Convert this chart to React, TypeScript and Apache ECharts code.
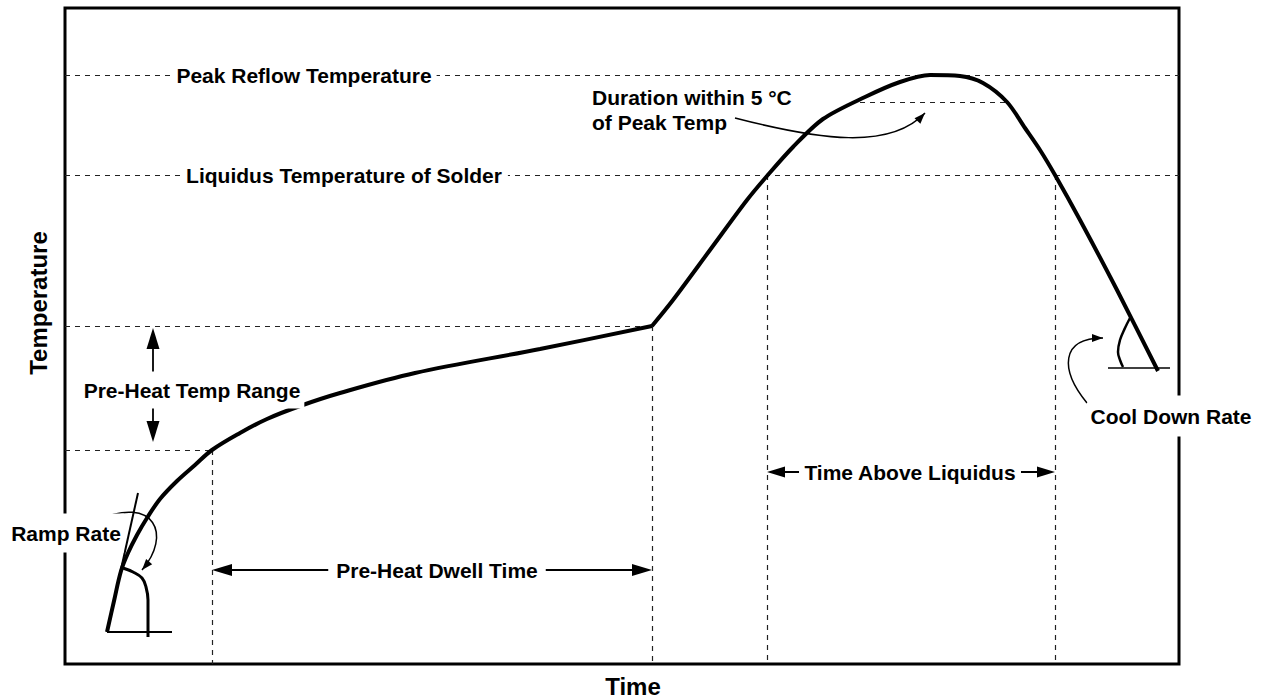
import React, { useEffect, useRef } from "react";
import * as echarts from "echarts";

// Axis extents (arbitrary time / temperature units of the schematic)
const X_MAX = 1114;
const Y_MAX = 656;

// Main reflow profile: ramp + pre-heat soak
const preheatTime = [42, 49, 56, 63, 72, 82, 95, 112, 130, 147, 175, 202, 235, 275, 350, 475, 587];
const preheatTemp = [32, 63, 93, 111, 129, 146, 165, 183, 199, 214, 231, 245, 258, 271, 291, 315, 338];

// Main reflow profile: reflow peak + cool down
const reflowTime = [587, 608, 645, 682, 702, 728, 758, 800, 835, 865, 895, 918, 942, 960, 975, 990, 1015, 1052, 1093];
const reflowTemp = [338, 364, 414, 464, 488, 517, 545, 567, 582, 589, 588, 581, 562, 536, 514, 489, 444, 374, 293];

// Key levels
const peakTemp = 589;
const peakBandTemp = 562;
const liquidusTemp = 489;
const preheatHigh = 338;
const preheatLow = 214;
const preheatStart = 147;
const preheatEnd = 587;
const liquidusStart = 702;
const liquidusEnd = 990;
const peakBandStart = 795;
const peakBandEnd = 942;

// Ramp-rate glyph
const rampArcTime = [58, 68, 77, 81, 83, 83];
const rampArcTemp = [96, 92, 86, 77, 64, 27];
const rampTangentTime = [42, 73];
const rampTangentTemp = [32, 171];
const rampBaseTime = [42, 107];
const rampBaseTemp = [32, 32];

// Cool-down glyph
const coolArcTime = [1065, 1060, 1055, 1053, 1055, 1058];
const coolArcTemp = [346, 336, 324, 312, 304, 297];
const coolBaseTime = [1043, 1105];
const coolBaseTemp = [296, 296];

// Arrow positions (time, temp)
const dwellArrowTemp = 94;
const talArrowTemp = 192;
const rangeArrowTime = 88;
const rangeArrowLow = 222;
const rangeArrowHigh = 336;

// Curved leader arrows: start, control 1, control 2, end
const rampLeader = [[32, 144], [90, 169], [107, 129], [77, 94]];
const coolLeader = [[1022, 261], [995, 294], [995, 326], [1038, 326]];
const durationLeader = [[670, 546], [755, 524], [825, 514], [860, 551]];

// Labels
const labelTexts = [
  "Peak Reflow Temperature",
  "Liquidus Temperature of Solder",
  "Pre-Heat Dwell Time",
  "Time Above Liquidus",
  "Pre-Heat Temp Range",
  "Ramp Rate",
  "Cool Down Rate",
];
const labelTime = [239, 279, 372, 845, 127, 1, 1106];
const labelTemp = [589, 489, 94, 192, 274, 131, 248];
const durationLines = ["Duration within 5 °C", "of Peak Temp"];
const durationTime = 527;
const durationTemp = [567, 542];

const FONT = '"Liberation Sans", Arial, Helvetica, sans-serif';
const zip = (a: number[], b: number[]) => a.map((v, i) => [v, b[i]]);

function head(tip: number[], from: number[], len: number, half: number) {
  const dx = tip[0] - from[0];
  const dy = tip[1] - from[1];
  const d = Math.hypot(dx, dy) || 1;
  const ux = dx / d;
  const uy = dy / d;
  const bx = tip[0] - ux * len;
  const by = tip[1] - uy * len;
  return {
    type: "polygon",
    shape: { points: [tip, [bx - uy * half, by + ux * half], [bx + uy * half, by - ux * half]] },
    style: { fill: "#000" },
  };
}

function doubleArrow(a: number[], b: number[], len: number, half: number, w: number) {
  const dx = b[0] - a[0];
  const dy = b[1] - a[1];
  const d = Math.hypot(dx, dy) || 1;
  const ux = dx / d;
  const uy = dy / d;
  return [
    {
      type: "line",
      shape: { x1: a[0] + ux * len * 0.8, y1: a[1] + uy * len * 0.8, x2: b[0] - ux * len * 0.8, y2: b[1] - uy * len * 0.8 },
      style: { stroke: "#000", lineWidth: w },
    },
    head(a, b, len, half),
    head(b, a, len, half),
  ];
}

function curvedArrow(p: number[][], w: number) {
  return [
    {
      type: "bezierCurve",
      shape: {
        x1: p[0][0], y1: p[0][1],
        cpx1: p[1][0], cpy1: p[1][1],
        cpx2: p[2][0], cpy2: p[2][1],
        x2: p[3][0], y2: p[3][1],
      },
      style: { stroke: "#000", lineWidth: w, fill: null },
    },
    head(p[3], p[2], 11, 4),
  ];
}

export default function App() {
  const ref = useRef<HTMLDivElement>(null);

  useEffect(() => {
    if (!ref.current) return;
    const chart = echarts.init(ref.current, undefined, { renderer: "svg" });

    const dashedSegments = [
      [[0, peakTemp], [X_MAX, peakTemp]],
      [[0, liquidusTemp], [X_MAX, liquidusTemp]],
      [[peakBandStart, peakBandTemp], [peakBandEnd, peakBandTemp]],
      [[0, preheatHigh], [preheatEnd, preheatHigh]],
      [[0, preheatLow], [preheatStart, preheatLow]],
      [[preheatStart, preheatLow], [preheatStart, 0]],
      [[preheatEnd, preheatHigh], [preheatEnd, 0]],
      [[liquidusStart, liquidusTemp], [liquidusStart, 0]],
      [[liquidusEnd, liquidusTemp], [liquidusEnd, 0]],
    ];

    const solidSegments = [
      { coords: zip(rampTangentTime, rampTangentTemp), lineStyle: { width: 2 } },
      { coords: zip(rampBaseTime, rampBaseTemp), lineStyle: { width: 2 } },
      { coords: zip(coolBaseTime, coolBaseTemp), lineStyle: { width: 1.5 } },
    ];

    const renderItem = (_params: any, api: any) => {
      const c = (p: number[]) => api.coord(p);
      const children: any[] = [];
      children.push(...doubleArrow(c([preheatStart, dwellArrowTemp]), c([preheatEnd, dwellArrowTemp]), 20, 6, 1.8));
      children.push(...doubleArrow(c([liquidusStart, talArrowTemp]), c([liquidusEnd, talArrowTemp]), 18, 5.5, 1.8));
      children.push(...doubleArrow(c([rangeArrowTime, rangeArrowLow]), c([rangeArrowTime, rangeArrowHigh]), 21, 6.5, 1.8));
      children.push(...curvedArrow(rampLeader.map(c), 1.5));
      children.push(...curvedArrow(coolLeader.map(c), 1.5));
      children.push(...curvedArrow(durationLeader.map(c), 1.5));
      const pads: number[][] = [[2, 5], [2, 6], [2, 8], [2, 5], [8, 4], [9, 3], [10, 3]];
      labelTexts.forEach((t, i) => {
        const p = c([labelTime[i], labelTemp[i]]);
        children.push({
          type: "text",
          style: {
            text: t, x: p[0], y: p[1], align: "center", verticalAlign: "middle",
            fontSize: 21, fontWeight: "bold", fontFamily: FONT, fill: "#000",
            backgroundColor: "#fff", padding: pads[i],
          },
        });
      });
      durationLines.forEach((t, i) => {
        const p = c([durationTime, durationTemp[i]]);
        children.push({
          type: "text",
          style: {
            text: t, x: p[0], y: p[1], align: "left", verticalAlign: "middle",
            fontSize: 21, fontWeight: "bold", fontFamily: FONT, fill: "#000",
          },
        });
      });
      return { type: "group", children };
    };

    chart.setOption({
      animation: false,
      backgroundColor: "#fff",
      grid: {
        left: 65, right: 86, top: 8, bottom: 36,
        show: true, borderColor: "#000", borderWidth: 3, backgroundColor: "transparent",
      },
      xAxis: {
        type: "value", min: 0, max: X_MAX,
        axisLine: { show: false }, axisTick: { show: false }, axisLabel: { show: false }, splitLine: { show: false },
      },
      yAxis: {
        type: "value", min: 0, max: Y_MAX,
        axisLine: { show: false }, axisTick: { show: false }, axisLabel: { show: false }, splitLine: { show: false },
      },
      graphic: [
        {
          type: "text", x: 38, y: 303, rotation: Math.PI / 2,
          style: { text: "Temperature", align: "center", verticalAlign: "middle", fontSize: 24, fontWeight: "bold", fontFamily: FONT, fill: "#000" },
        },
        {
          type: "text", x: 633, y: 686,
          style: { text: "Time", align: "center", verticalAlign: "middle", fontSize: 24, fontWeight: "bold", fontFamily: FONT, fill: "#000" },
        },
      ],
      series: [
        {
          type: "lines", coordinateSystem: "cartesian2d", z: 1, silent: true,
          lineStyle: { color: "#222", width: 1.2, type: [5, 5], opacity: 1 },
          data: dashedSegments.map((s) => ({ coords: s })),
        },
        {
          type: "lines", coordinateSystem: "cartesian2d", z: 2, silent: true,
          lineStyle: { color: "#000", width: 2, type: "solid", opacity: 1 },
          data: solidSegments,
        },
        {
          type: "line", data: zip(preheatTime, preheatTemp), smooth: 0.35, symbol: "none", z: 3,
          lineStyle: { color: "#000", width: 4 },
        },
        {
          type: "line", data: zip(reflowTime, reflowTemp), smooth: 0.3, symbol: "none", z: 3,
          lineStyle: { color: "#000", width: 4 },
        },
        {
          type: "line", data: zip(rampArcTime, rampArcTemp), smooth: 0.4, symbol: "none", z: 3,
          lineStyle: { color: "#000", width: 3 },
        },
        {
          type: "line", data: zip(coolArcTime, coolArcTemp), smooth: 0.4, symbol: "none", z: 3,
          lineStyle: { color: "#000", width: 2.5 },
        },
        {
          type: "custom", coordinateSystem: "cartesian2d", data: [[0, 0]], z: 10, silent: true,
          clip: false, renderItem,
        },
      ],
    });

    return () => chart.dispose();
  }, []);

  return (
    <div
      ref={ref}
      style={{ position: "fixed", left: 0, top: 0, width: 1265, height: 700, background: "#fff" }}
    />
  );
}
